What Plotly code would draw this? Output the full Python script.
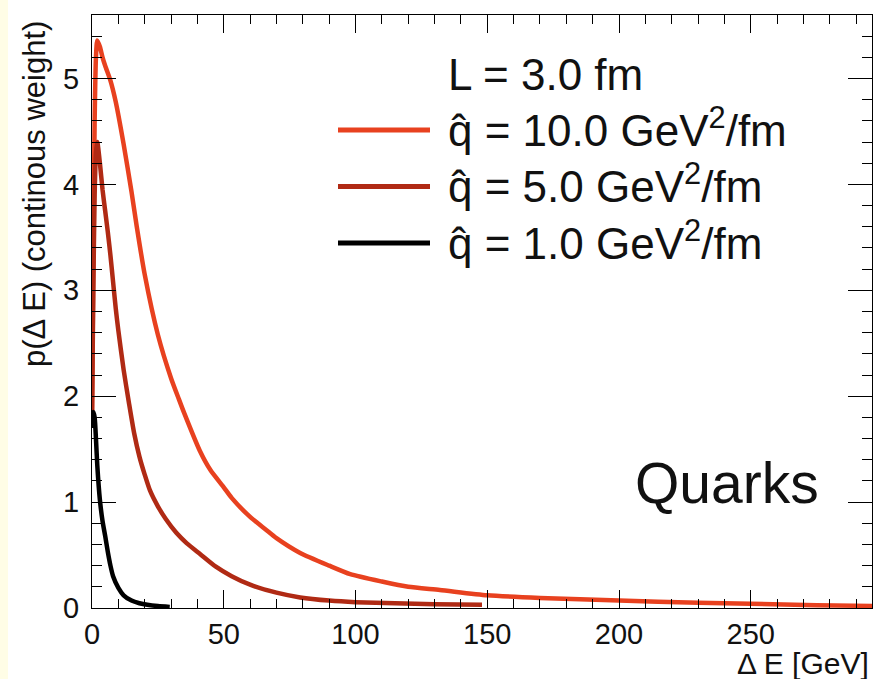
import plotly.graph_objects as go

# ---- data ----
e_q10 = [0, 0.5, 1, 1.5, 2, 3, 4, 5, 7, 9, 12, 15, 17, 20, 25, 30, 33, 35, 41, 45, 50, 53,
         60, 66, 70, 79, 90, 98, 110, 120, 132, 150, 170, 200, 230, 250, 275, 296]
p_q10 = [1.8, 3.3, 4.6, 5.2, 5.36, 5.3, 5.2, 5.12, 4.98, 4.78, 4.38, 3.93, 3.6, 3.15, 2.58, 2.17, 1.97, 1.84, 1.48, 1.30, 1.14, 1.04,
         0.86, 0.74, 0.66, 0.52, 0.40, 0.32, 0.25, 0.20, 0.17, 0.12, 0.095, 0.07, 0.05, 0.04, 0.025, 0.02]

e_q5 = [0, 0.5, 1, 1.5, 2, 3, 4, 5, 6, 7, 8, 9, 10, 12, 14, 16, 18, 20, 22, 25, 28, 32, 36, 41,
        47, 53, 60, 70, 79, 90, 100, 115, 130, 148]
p_q5 = [1.8, 3.0, 3.9, 4.3, 4.4, 4.2, 3.95, 3.75, 3.55, 3.33, 3.08, 2.83, 2.62, 2.25, 1.94, 1.65, 1.43, 1.26, 1.11, 0.96, 0.84, 0.71, 0.61, 0.51,
        0.39, 0.30, 0.22, 0.145, 0.10, 0.07, 0.055, 0.045, 0.035, 0.03]

e_q1 = [0, 0.5, 1, 1.5, 2, 3, 4, 5, 6, 7, 8, 10, 12, 15, 18, 21, 25, 29.5]
p_q1 = [1.7, 1.85, 1.8, 1.6, 1.35, 1.02, 0.82, 0.68, 0.53, 0.40, 0.30, 0.19, 0.12, 0.07, 0.045, 0.03, 0.018, 0.01]

series_names = ["q̂ = 10.0 GeV<sup>2</sup>/fm", "q̂ = 5.0 GeV<sup>2</sup>/fm", "q̂ = 1.0 GeV<sup>2</sup>/fm"]
series_colors = ["#E8411F", "#B02A14", "#000000"]
x_ticks = [0, 50, 100, 150, 200, 250]
y_ticks = [0, 1, 2, 3, 4, 5]

W, H = 873, 679
ML, MR, MT, MB = 92, 1, 15, 71
PW, PH = W - ML - MR, H - MT - MB


def px2paper(xp, yp):
    return (xp - ML) / PW, (H - MB - yp) / PH


fig = go.Figure()
for (ex, py), name, col in zip([(e_q10, p_q10), (e_q5, p_q5), (e_q1, p_q1)], series_names, series_colors):
    fig.add_trace(go.Scatter(x=ex, y=py, mode="lines", name=name,
                             line=dict(color=col, width=4.5, shape="spline", smoothing=0.6),
                             showlegend=False))

FONT = "Liberation Sans, Arial, Helvetica, sans-serif"
axis_common = dict(showgrid=False, zeroline=False, showline=True, linecolor="black", linewidth=1.2,
                   mirror="ticks", ticks="inside", tickcolor="black", tickwidth=1.2,
                   tickfont=dict(family=FONT, size=29, color="#111"))

fig.update_xaxes(range=[0, 296], tickvals=x_ticks, ticklen=18,
                 minor=dict(dtick=10, ticks="inside", ticklen=9, tickcolor="black", tickwidth=1),
                 ticklabelstandoff=0, **axis_common)
fig.update_yaxes(range=[0, 5.6], tickvals=y_ticks, ticklen=24,
                 minor=dict(dtick=0.2, ticks="inside", ticklen=10, tickcolor="black", tickwidth=1),
                 ticklabelstandoff=6, **axis_common)

annotations = []
# axis titles
x, y = px2paper(34, 194)
annotations.append(dict(text="p(Δ E) (continous weight)", x=x, y=y, xref="paper", yref="paper",
                        textangle=-90, showarrow=False, xanchor="center", yanchor="middle",
                        font=dict(family=FONT, size=31, color="#111")))
x, y = px2paper(871, 663)
annotations.append(dict(text="Δ E [GeV]", x=x, y=y, xref="paper", yref="paper",
                        showarrow=False, xanchor="right", yanchor="middle",
                        font=dict(family=FONT, size=30, color="#111")))
# legend
LEG_SIZE = 44
x, y = px2paper(446, 74)
annotations.append(dict(text="L = 3.0 fm", x=x, y=y, xref="paper", yref="paper",
                        showarrow=False, xanchor="left", yanchor="middle",
                        font=dict(family=FONT, size=LEG_SIZE, color="#111")))
shapes = []
for i, (name, col) in enumerate(zip(series_names, series_colors)):
    ly = 130 + i * 56.5
    x0, y0 = px2paper(338, ly)
    x1, _ = px2paper(430, ly)
    shapes.append(dict(type="line", xref="paper", yref="paper", x0=x0, x1=x1, y0=y0, y1=y0,
                       line=dict(color=col, width=5)))
    tx, ty = px2paper(446, ly - 3)
    annotations.append(dict(text=name, x=tx, y=ty, xref="paper", yref="paper",
                            showarrow=False, xanchor="left", yanchor="middle",
                            font=dict(family=FONT, size=LEG_SIZE, color="#111")))
x, y = px2paper(727, 483)
annotations.append(dict(text="Quarks", x=x, y=y, xref="paper", yref="paper",
                        showarrow=False, xanchor="center", yanchor="middle",
                        font=dict(family=FONT, size=57, color="#111")))
# cream stripe at the left edge of the page
x0, _ = px2paper(0, 0)
x1, _ = px2paper(8, 0)
shapes.append(dict(type="rect", xref="paper", yref="paper", x0=x0, x1=x1, y0=-MB / PH, y1=1 + MT / PH,
                   fillcolor="#FFFDE6", line=dict(width=0), layer="below"))

fig.update_layout(width=W, height=H, margin=dict(l=ML, r=MR, t=MT, b=MB),
                  paper_bgcolor="white", plot_bgcolor="white",
                  annotations=annotations, shapes=shapes, showlegend=False)

fig.write_html("out.html")
